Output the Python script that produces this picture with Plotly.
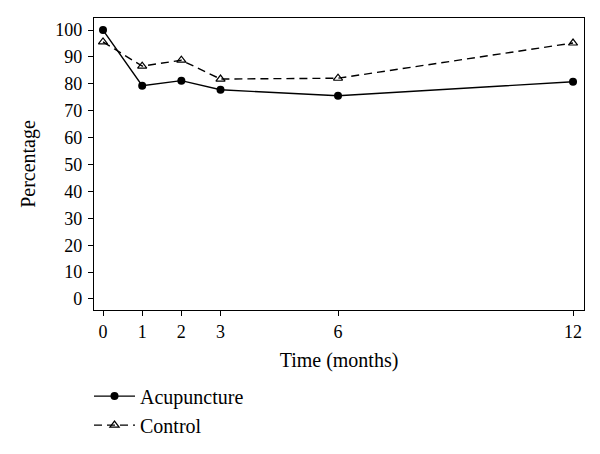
import plotly.graph_objects as go

months = [0, 1, 2, 3, 6, 12]
acupuncture = [100, 79.3, 81.2, 77.8, 75.6, 80.8]
control = [95.6, 86.6, 88.8, 81.8, 82.1, 95.2]
y_ticks = list(range(0, 101, 10))

FONT = "Liberation Serif, Times New Roman, serif"

fig = go.Figure()
fig.add_trace(go.Scatter(
    x=months, y=acupuncture, name="Acupuncture", mode="lines+markers",
    line=dict(color="black", width=1.4),
    marker=dict(symbol="circle", size=8, color="black"),
))
fig.add_trace(go.Scatter(
    x=months, y=control, name="Control", mode="lines+markers",
    line=dict(color="black", width=1.4, dash="8px,5px"),
    marker=dict(symbol="triangle-up-open", size=8, color="black", line=dict(width=1.2)),
))

# page body has an 8px margin, so margins are compensated
fig.update_layout(
    width=600, height=454,
    margin=dict(l=86, r=24, t=10, b=152, autoexpand=False),
    paper_bgcolor="white", plot_bgcolor="white",
    font=dict(family=FONT, size=18, color="black"),
    showlegend=True,
    legend=dict(x=-0.0102, y=-0.228, xanchor="left", yanchor="top",
                font=dict(family=FONT, size=20, color="black"), bgcolor="rgba(0,0,0,0)",
                tracegroupgap=0, itemwidth=41),
    xaxis=dict(
        range=[-0.23, 12.28], tickvals=months, ticktext=[str(m) for m in months],
        ticks="outside", ticklen=5, tickcolor="black", showgrid=False, zeroline=False,
        showline=True, linecolor="black", linewidth=1.2, mirror=True, automargin=False,
        title=dict(text="Time (months)", font=dict(family=FONT, size=20), standoff=12),
        tickfont=dict(family=FONT, size=18),
    ),
    yaxis=dict(
        range=[-4.1, 104.5], tickvals=y_ticks,
        ticks="outside", ticklen=5, tickcolor="black", showgrid=False, zeroline=False,
        showline=True, linecolor="black", linewidth=1.2, mirror=True, automargin=False,
        ticklabelstandoff=2,
        title=dict(text="Percentage", font=dict(family=FONT, size=20), standoff=14),
        tickfont=dict(family=FONT, size=18),
    ),
)

fig.write_html("out.html")
